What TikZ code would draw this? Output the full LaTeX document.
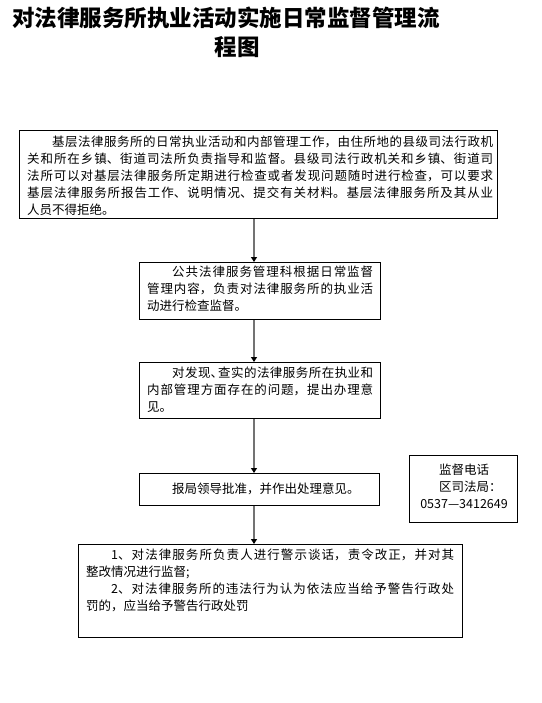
\documentclass[tikz,border=0pt]{standalone}
\usepackage{fontspec}
\setmainfont{Noto Sans CJK SC}
\usetikzlibrary{arrows.meta}
\XeTeXlinebreaklocale "zh"
\XeTeXlinebreakskip=0pt plus 3pt
\begin{document}
\begin{tikzpicture}[x=1pt,y=-1pt,
  box/.style={draw=black,line width=1.2pt,anchor=north west,inner sep=0pt},
  txt/.style={anchor=north west,inner sep=0pt,align=justify,font=\fontsize{12.5}{17}\selectfont},
  ttl/.style={inner sep=0pt,font=\fontsize{22.5}{26}\selectfont\bfseries},
  flow/.style={draw=black!55,line width=1.6pt,-{Triangle[color=black,length=5pt,width=6pt]}}]
\useasboundingbox[fill=white] (0,0) rectangle (541,703);
\node[ttl,anchor=west] (t1) at (12,18) {对法律服务所执业活动实施日常监督管理流};
\node[ttl] (t2) at (237,47) {程图};

\node[box,minimum width=478pt,minimum height=88pt] (b1) at (19,130) {};
\node[txt,text width=466pt] (x1) at (27,136) {\hspace*{2em}基层法律服务所的日常执业活动和内部管理工作，由住所地的县级司法行政机\linebreak
关和所在乡镇、街道司法所负责指导和监督。县级司法行政机关和乡镇、街道司\linebreak
法所可以对基层法律服务所定期进行检查或者发现问题随时进行检查，可以要求\linebreak
基层法律服务所报告工作、说明情况、提交有关材料。基层法律服务所及其从业\linebreak
人员不得拒绝。};

\node[box,minimum width=241pt,minimum height=57pt] (b2) at (139,262) {};
\node[txt,text width=226pt] (x2) at (147,266) {\hspace*{2em}公共法律服务管理科根据日常监督\linebreak
管理内容，负责对法律服务所的执业活\linebreak
动进行检查监督。};

\node[box,minimum width=241pt,minimum height=56pt] (b3) at (139,362) {};
\node[txt,text width=226pt] (x3) at (147,367) {\hspace*{2em}对发现、\kern-0.4em 查实的法律服务所在执业和\linebreak
内部管理方面存在的问题，提出办理意\linebreak
见。};

\node[box,minimum width=240pt,minimum height=32pt] (b4) at (139,473) {};
\node[inner sep=0pt,anchor=west,font=\fontsize{12.5}{17}\selectfont] (x4) at (172,489) {报局领导批准，并作出处理意见。};

\node[box,minimum width=108pt,minimum height=67pt] (b6) at (409,455) {};
\node[inner sep=0pt,align=center,font=\fontsize{12.5}{17}\selectfont] (x6) at (464,486) {监督电话\\\hspace*{1em}区司法局：\\0537—3412649};

\node[box,minimum width=384pt,minimum height=93pt] (b5) at (78,544) {};
\node[txt,text width=368pt] (x5) at (86,549) {\hspace*{2em}1、对法律服务所负责人进行警示谈话，责令改正，并对其\linebreak
整改情况进行监督;\\
\hspace*{2em}2、对法律服务所的违法行为认为依法应当给予警告行政处\linebreak
罚的，应当给予警告行政处罚};

\coordinate (ax) at (254,0);
\draw[flow] (b1.south -| ax) -- (b2.north -| ax);
\draw[flow] (b2.south -| ax) -- (b3.north -| ax);
\draw[flow] (b3.south -| ax) -- (b4.north -| ax);
\draw[flow] (b4.south -| ax) -- (b5.north -| ax);
\end{tikzpicture}
\end{document}
